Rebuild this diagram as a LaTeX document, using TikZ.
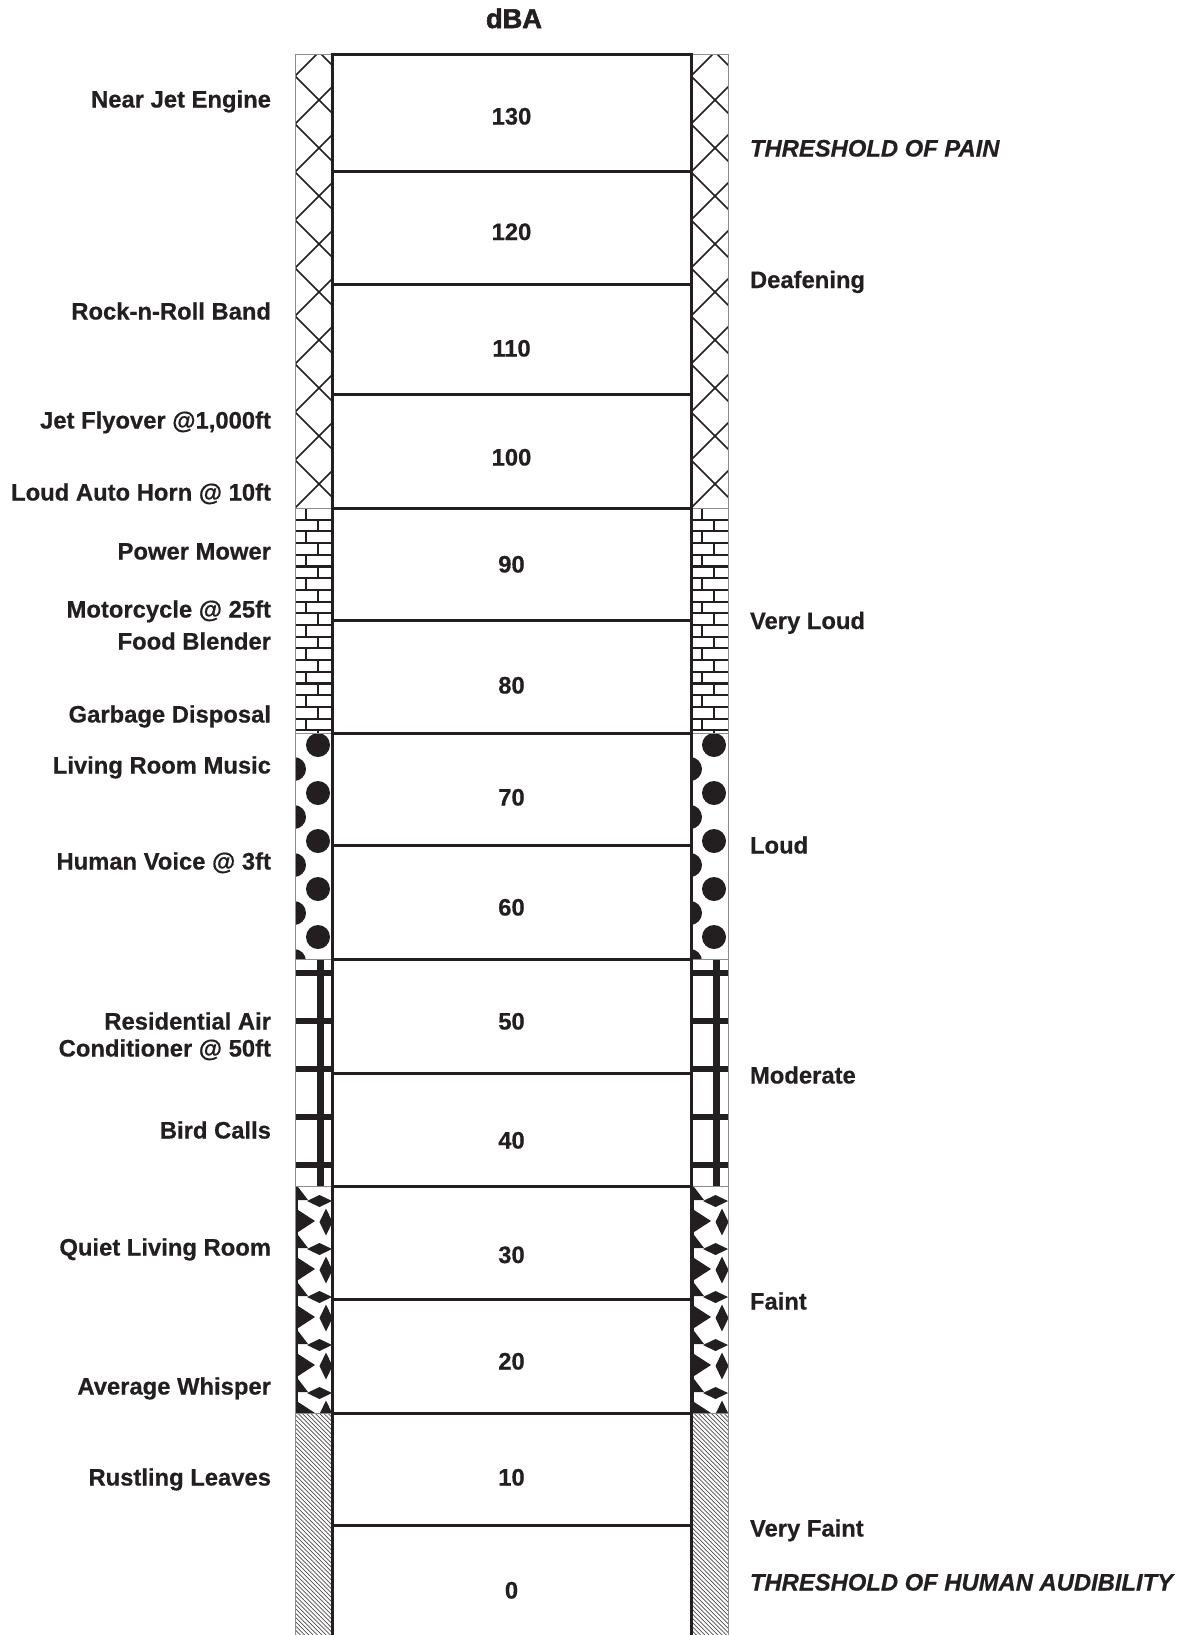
\documentclass[tikz,border=0pt]{standalone}
\usepackage{fontspec}
\setmainfont{Liberation Sans}[BoldFeatures={FakeBold=0.5},BoldItalicFeatures={FakeBold=0.5}]
\newfontfamily\heavyfont{Liberation Sans}[BoldFeatures={FakeBold=2}]
\definecolor{ink}{HTML}{231F20}
\definecolor{edgegray}{HTML}{8C8C8C}
\begin{document}
\begin{tikzpicture}[x=0.5pt,y=-0.5pt,
  every node/.style={inner sep=0pt, outer sep=0pt, text=ink, font=\fontsize{11.9}{13.5}\selectfont\bfseries},
  lbl/.style={anchor=base east},
  rlbl/.style={anchor=base west},
  numlbl/.style={anchor=base},
  rowline/.style={draw=ink, line width=1.5pt},
  boxline/.style={draw=ink, line width=1.5pt},
  xhatch/.style={draw=ink, line width=0.85pt},
  mortar/.style={draw=ink, line width=1.05pt},
  finehatch/.style={draw=ink!80, line width=0.35pt},
  zoneedge/.style={draw=edgegray, line width=0.5pt}]
\useasboundingbox (0,0) rectangle (1193,1635);
\fill[white] (0,0) rectangle (1193,1635);

\foreach \X in {295,691} {
  % crosshatch zone
  \begin{scope}
    \clip (\X,54) rectangle (\X+37,508);
    \foreach \k in {-1,...,10} {
      \draw[xhatch] (\X,76+48*\k) -- ++(70,70);
      \draw[xhatch] (\X,76+48*\k) -- ++(70,-70);
    }
  \end{scope}
  % brick zone
  \begin{scope}
    \clip (\X,508) rectangle (\X+37,733);
    \foreach \j in {0,...,19} {
      \pgfmathsetmacro\yy{508+11.7*\j}
      \pgfmathsetmacro\jx{11+12*mod(\j,2)}
      \draw[mortar] (\X,\yy) -- (\X+37,\yy);
      \draw[mortar] (\X+\jx,\yy) -- (\X+\jx,\yy+11.7);
    }
    \draw[mortar] (\X,508) -- (\X,733);
  \end{scope}
  % dots zone
  \begin{scope}
    \clip (\X,733) rectangle (\X+37,959);
    \foreach \k in {0,...,4} {
      \fill[ink] (\X+23,745+48*\k) circle[radius=12];
      \fill[ink] (\X-1,769+48*\k) circle[radius=12];
    }
  \end{scope}
  % grid zone
  \begin{scope}
    \clip (\X,959) rectangle (\X+37,1186);
    \fill[ink] (\X+22,959) rectangle (\X+29,1186);
    \foreach \k in {0,...,4} {
      \fill[ink] (\X,970+48*\k) rectangle (\X+37,976+48*\k);
    }
  \end{scope}
  % rhombus zone
  \begin{scope}
    \clip (\X,1186) rectangle (\X+37,1413);
    \foreach \k in {-2,...,4} {
      \fill[ink] (\X+12,1249+48*\k) -- (\X+24.5,1243+48*\k) -- (\X+37,1249+48*\k) -- (\X+24.5,1255+48*\k) -- cycle;
      \fill[ink] (\X+31,1256.5+48*\k) -- (\X+37.5,1270+48*\k) -- (\X+31,1283.5+48*\k) -- (\X+24.5,1270+48*\k) -- cycle;
      \fill[ink] (\X,1231+48*\k) -- (\X+13,1248+48*\k) -- (\X,1248+48*\k) -- cycle;
      \fill[ink] (\X,1256+48*\k) -- (\X+20,1269+48*\k) -- (\X,1282+48*\k) -- cycle;
    }
    \fill[ink] (\X,1186) rectangle (\X+2.5,1413);
  \end{scope}
  % fine hatch zone
  \begin{scope}
    \clip (\X,1413) rectangle (\X+37,1635);
    \foreach \s in {0,...,61} {
      \draw[finehatch] (\X+37-4.3*\s,1413) -- ++(240,240);
    }
  \end{scope}
  % zone edges
  \draw[zoneedge] (\X,54) rectangle (\X+37,508);
  \draw[zoneedge] (\X,508) rectangle (\X+37,733);
  \draw[zoneedge] (\X,733) rectangle (\X+37,959);
  \draw[zoneedge] (\X,959) rectangle (\X+37,1186);
  \draw[zoneedge] (\X,1186) rectangle (\X+37,1413);
  \draw[zoneedge] (\X,1413) -- (\X,1635) (\X+37,1413) -- (\X+37,1635);
}

% box
\foreach \yy in {54,171,284,394,508,620,733,845,959,1073,1186,1299,1413,1525} {
  \draw[rowline] (332,\yy) -- (691,\yy);
}
\draw[boxline] (332,53.25) -- (332,1635);
\draw[boxline] (691,53.25) -- (691,1635);

% header
\node[numlbl, font=\heavyfont\fontsize{13.6}{15}\selectfont\bfseries] (dba) at (514,28) {dBA};

% numbers
\node[numlbl] (n130) at (511.5,124.5) {130};
\node[numlbl] (n120) at (511.5,240) {120};
\node[numlbl] (n110) at (511.5,356.5) {110};
\node[numlbl] (n100) at (511.5,465.5) {100};
\node[numlbl] (n90) at (511.5,572.5) {90};
\node[numlbl] (n80) at (511.5,693.5) {80};
\node[numlbl] (n70) at (511.5,805.5) {70};
\node[numlbl] (n60) at (511.5,915.5) {60};
\node[numlbl] (n50) at (511.5,1029.5) {50};
\node[numlbl] (n40) at (511.5,1148.5) {40};
\node[numlbl] (n30) at (511.5,1263) {30};
\node[numlbl] (n20) at (511.5,1369.5) {20};
\node[numlbl] (n10) at (511.5,1485.5) {10};
\node[numlbl] (n0) at (511.5,1598.5) {0};

% left labels
\node[lbl] (l1) at (271,107.5) {Near Jet Engine};
\node[lbl] (l2) at (271,319.5) {Rock-n-Roll Band};
\node[lbl] (l3) at (271,428.5) {Jet Flyover @1,000ft};
\node[lbl] (l4) at (271,500.5) {Loud Auto Horn @ 10ft};
\node[lbl] (l5) at (271,559.5) {Power Mower};
\node[lbl] (l6) at (271,617.5) {Motorcycle @ 25ft};
\node[lbl] (l7) at (271,649.5) {Food Blender};
\node[lbl] (l8) at (271,722.5) {Garbage Disposal};
\node[lbl] (l9) at (271,773.5) {Living Room Music};
\node[lbl] (l10) at (271,869.5) {Human Voice @ 3ft};
\node[lbl] (l11a) at (271,1029.5) {Residential Air};
\node[lbl] (l11b) at (271,1056.5) {Conditioner @ 50ft};
\node[lbl] (l12) at (271,1138.5) {Bird Calls};
\node[lbl] (l13) at (271,1255.5) {Quiet Living Room};
\node[lbl] (l14) at (271,1394.5) {Average Whisper};
\node[lbl] (l15) at (271,1485.5) {Rustling Leaves};

% right labels
\node[rlbl] (r1) at (750,156.5) {\itshape THRESHOLD OF PAIN};
\node[rlbl] (r2) at (750,288) {Deafening};
\node[rlbl] (r3) at (750,629) {Very Loud};
\node[rlbl] (r4) at (750,853.5) {Loud};
\node[rlbl] (r5) at (750,1083.5) {Moderate};
\node[rlbl] (r6) at (750,1309.5) {Faint};
\node[rlbl] (r7) at (750,1536.5) {Very Faint};
\node[rlbl] (r8) at (750,1590.5) {\itshape THRESHOLD OF HUMAN AUDIBILITY};
\end{tikzpicture}
\end{document}
